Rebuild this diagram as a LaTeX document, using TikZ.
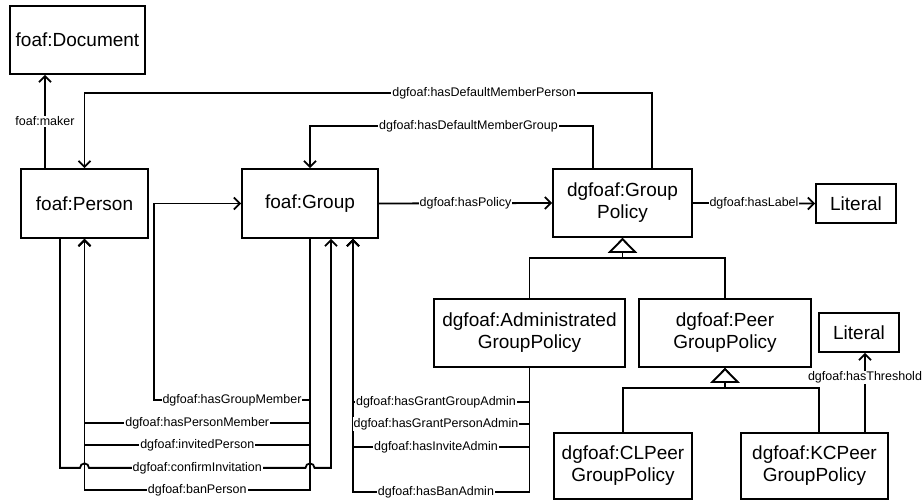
\documentclass[tikz,border=0pt]{standalone}
\usepackage{fontspec}
\setmainfont{Liberation Sans}
\usetikzlibrary{arrows.meta}

\begin{document}
\begin{tikzpicture}[x=1pt,y=-1pt,line width=1.8pt]
\useasboundingbox (0,0) rectangle (922,502);
\begin{scope}[every node/.style={rectangle,draw,line width=1.8pt,align=center,inner sep=2pt,
              font=\fontsize{19}{22}\selectfont}]
    \node[minimum width=135pt,minimum height=68pt] (Doc) at (77.5,40) {foaf:Document};
    \node[minimum width=127pt,minimum height=69pt] (Person) at (84.5,203.5) {foaf:Person};
    \node[minimum width=136pt,minimum height=69pt] (Group) at (310,203.5) {foaf:Group};
    \node[minimum width=139pt,minimum height=68pt] (Policy) at (622.5,203) {dgfoaf:Group\\Policy};
    \node[minimum width=80pt,minimum height=39pt] (Lit) at (856,203.5) {Literal};
    \node[minimum width=191pt,minimum height=68pt] (Admin) at (529.5,333) {dgfoaf:Administrated\\GroupPolicy};
    \node[minimum width=172pt,minimum height=68pt] (Peer) at (725,333) {dgfoaf:Peer\\GroupPolicy};
    \node[minimum width=80pt,minimum height=39pt] (LitT) at (859,332.5) {Literal};
    \node[minimum width=138pt,minimum height=66pt] (CL) at (623,466) {dgfoaf:CLPeer\\GroupPolicy};
    \node[minimum width=147pt,minimum height=66pt] (KC) at (814.5,466) {dgfoaf:KCPeer\\GroupPolicy};
\end{scope}

\begin{scope}[>={Straight Barb[length=6pt,width=12pt]},
              inh/.style={-{Triangle[open,length=15pt,width=29pt,fill=white]}},
              every node/.style={fill=white,inner sep=1pt,font=\fontsize{12.5}{14}\selectfont}]
    \draw [->] ([xshift=-39.5pt]Person.north) -- node{foaf:maker} ([xshift=-39.5pt]Person.north |- Doc.south);
    \draw [->] ([xshift=29.5pt]Policy.north) -- ++(0,-75) -| node[pos=0.148]{dgfoaf:hasDefaultMemberPerson} (Person.north);
    \draw [->] ([xshift=-29.5pt]Policy.north) -- ++(0,-42) -| node[pos=0.22]{dgfoaf:hasDefaultMemberGroup} (Group.north);
    \draw [->] (Group.east) -- node{dgfoaf:hasPolicy} (Policy.west);
    \draw [->] (Policy.east) -- node{dgfoaf:hasLabel} (Lit.west);

    \draw [->] (Group.south) -- ++(0,161) -- node{dgfoaf:hasGroupMember} ++(-156,0) |- (Group.west);
    \draw [->] (Group.south) -- ++(0,251) -| node[pos=0.25]{dgfoaf:banPerson} (Person.south);
    \draw [->] (Group.south) -- ++(0,206) -| node[pos=0.25]{dgfoaf:invitedPerson} (Person.south);
    \draw [->] (Group.south) -- ++(0,184) -| node[pos=0.25]{dgfoaf:hasPersonMember} (Person.south);
    \draw [->] ([xshift=-24.5pt]Person.south) -- ++(0,229) -- ++(20,0)
        arc[start angle=180,end angle=0,radius=4.5pt]
        -- node{dgfoaf:confirmInvitation} ++(216.5,0)
        arc[start angle=180,end angle=0,radius=4.5pt]
        -| ([xshift=21pt]Group.south);

    \draw [->] (Admin.south) -- ++(0,124) -| node[pos=0.265]{dgfoaf:hasBanAdmin} ([xshift=43pt]Group.south);
    \draw [->] (Admin.south) -- ++(0,79) -| node[pos=0.265]{dgfoaf:hasInviteAdmin} ([xshift=43pt]Group.south);
    \draw [->] (Admin.south) -- ++(0,56) -| node[pos=0.265]{dgfoaf:hasGrantPersonAdmin} ([xshift=43pt]Group.south);
    \draw [->] (Admin.south) -- ++(0,34) -| node[pos=0.265]{dgfoaf:hasGrantGroupAdmin} ([xshift=43pt]Group.south);

    \draw [inh] (Admin.north) -- ++(0,-40) -| (Policy.south);
    \draw [inh] (Peer.north) -- ++(0,-40) -| (Policy.south);
    \draw [inh] (CL.north) -- ++(0,-44) -| (Peer.south);
    \draw [inh] ([xshift=4.5pt]KC.north) -- ++(0,-44) -| (Peer.south);
    \draw [->] ([xshift=50.5pt]KC.north) -- node[pos=0.69]{dgfoaf:hasThreshold} ([xshift=50.5pt]KC.north |- LitT.south);
\end{scope}
\end{tikzpicture}
\end{document}
